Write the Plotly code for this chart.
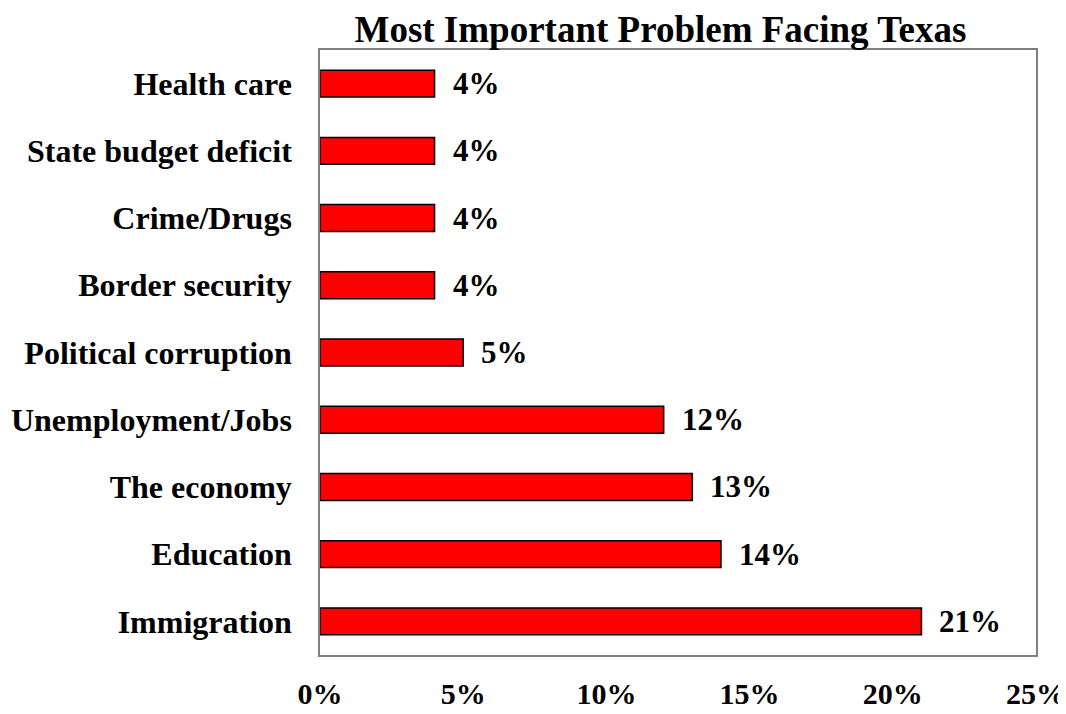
import plotly.graph_objects as go

categories = ["Immigration", "Education", "The economy", "Unemployment/Jobs",
              "Political corruption", "Border security", "Crime/Drugs",
              "State budget deficit", "Health care"]
values = [21, 14, 13, 12, 5, 4, 4, 4, 4]
tick_vals = [0, 5, 10, 15, 20, 25]
tick_text = ["0%", "5%", "10%", "15%", "20%", "25%"]

FONT = "Liberation Serif"
FS = 31

fig = go.Figure(go.Bar(
    x=values, y=categories, orientation="h", width=0.4,
    marker=dict(color="#ff0000", line=dict(color="black", width=1.5)),
))

for c, v in zip(categories, values):
    fig.add_annotation(x=v, y=c, text=f"<b>{v}%</b>", showarrow=False,
                       xanchor="left", yanchor="middle", xshift=16,
                       font=dict(family=FONT, size=FS, color="black"))

fig.update_layout(
    width=1066, height=714,
    margin=dict(l=312, r=38, t=42, b=67),
    paper_bgcolor="white", plot_bgcolor="white",
    showlegend=False,
    font=dict(family=FONT, size=FS, color="black"),
    title=dict(text="<b>Most Important Problem Facing Texas</b>",
               x=0.612, xanchor="center", y=0.97, yanchor="middle",
               font=dict(family=FONT, size=37, color="black")),
    xaxis=dict(range=[0, 25], tickvals=tick_vals,
               ticktext=[f"<b>{t}</b>" for t in tick_text],
               showgrid=False, zeroline=False, showline=True,
               linecolor="#808080", linewidth=1.5, mirror=True,
               ticks="", ticklabelstandoff=11, automargin=False,
               tickfont=dict(family=FONT, size=30, color="black")),
    yaxis=dict(categoryorder="array", categoryarray=categories,
               tickvals=categories,
               ticktext=[f"<b>{c}</b>" for c in categories],
               showgrid=False, zeroline=False, showline=True,
               linecolor="#808080", linewidth=1.5, mirror=True,
               ticks="", ticklabelstandoff=20, automargin=False,
               tickfont=dict(family=FONT, size=32, color="black")),
)

fig.write_html("out.html")
